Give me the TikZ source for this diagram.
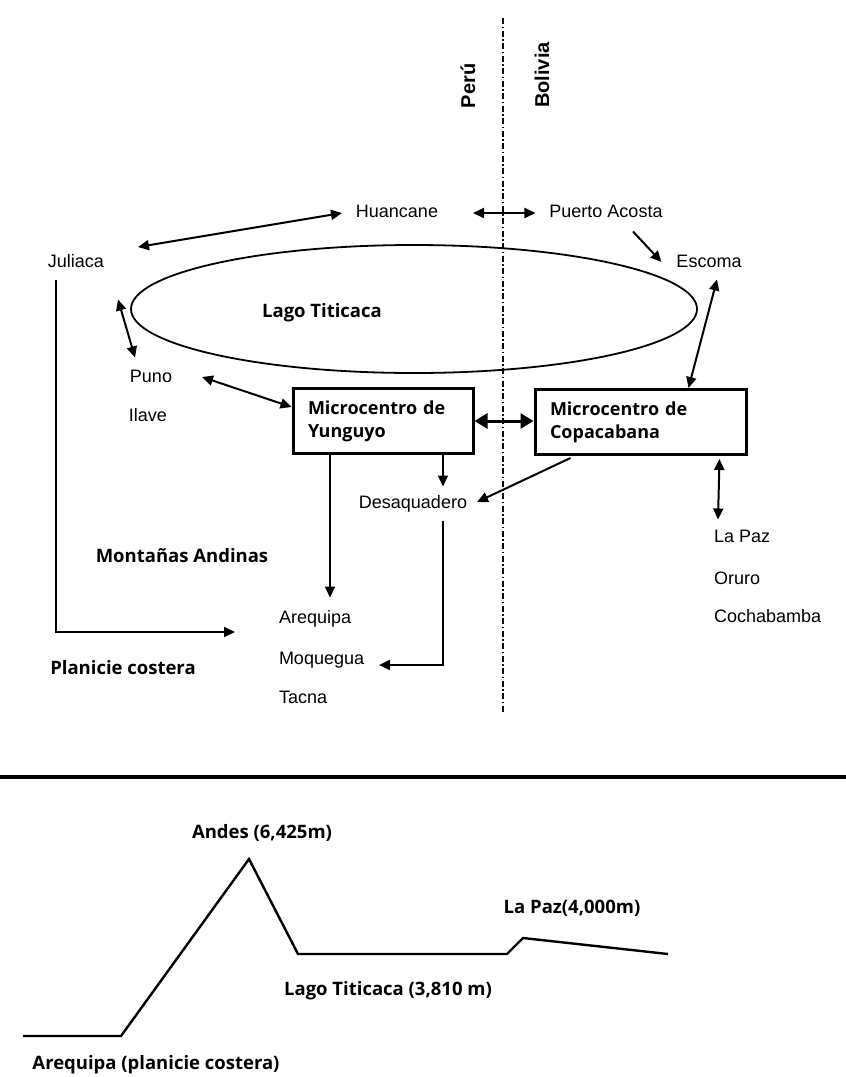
\documentclass[tikz,border=0pt]{standalone}
\usepackage{fontspec}
\setmainfont{Liberation Sans}
\newfontfamily\frut{Open Sans}
\usetikzlibrary{arrows.meta}

\begin{document}
\begin{tikzpicture}[x=1pt, y=-1pt, line width=2pt,
  town/.style={font=\fontsize{18}{21}\selectfont, inner sep=2pt, text height=13pt, text depth=4pt},
  land/.style={font=\bfseries\fontsize{20}{23}\selectfont, inner sep=2pt, rotate=90},
  reg/.style={font=\frut\bfseries\fontsize{18.5}{22}\selectfont, inner sep=2pt},
  centro/.style={draw, line width=3pt, font=\frut\bfseries\fontsize{18}{23}\selectfont,
    align=left, inner xsep=15pt, inner ysep=0pt, minimum height=65pt},
  >={Triangle[length=11pt,width=10pt]},
  fat/.style={line width=3pt, >={Triangle[length=13pt,width=15pt]}}]
\useasboundingbox (0,0) rectangle (846,1077);
\node[land] (Per) at (468,86) {Perú};
\node[land] (Bol) at (542,75) {Bolivia};
\coordinate (Bt) at (503,18);
\coordinate (Bb) at (503,713);
\draw[line width=1.6pt, dash pattern=on 6pt off 2.5pt on 1.5pt off 2.5pt] (Bt) -- (Bb);
\draw[line width=1.8pt] (414,309) ellipse [x radius=283, y radius=64];
\node[reg] (Lag) at (322,313) {Lago Titicaca};
\node[town] (Hua) at (397,213) {Huancane};
\node[town] (PAc) at (606,213) {Puerto Acosta};
\node[town] (Esc) at (709,263) {Escoma};
\node[town] (Jul) at (76,263) {Juliaca};
\node[town] (Pun) at (151,378) {Puno};
\node[town] (Ila) at (148,417) {Ilave};
\node[town] (Des) at (413,504) {Desaquadero};
\node[town, anchor=west] (Are) at (276,619) {Arequipa};
\node[town, anchor=west] (Moq) at (276,660) {Moquegua};
\node[town, anchor=west] (Tac) at (276,699) {Tacna};
\node[town, anchor=west] (LPz) at (711,538) {La Paz};
\node[town, anchor=west] (Oru) at (711,580) {Oruro};
\node[town, anchor=west] (Coc) at (711,618) {Cochabamba};
\node[reg] (Mon) at (182,556) {Montañas Andinas};
\node[reg] (Pla) at (123,668) {Planicie costera};
\node[centro, text width=150pt] (Yun) at (383,421) {Microcentro de\\Yunguyo};
\node[centro, text width=181pt] (Cop) at (640.5,422) {Microcentro de\\Copacabana};
\draw[<->] ([shift={(31,-16)}]Jul.east) -- ([shift={(-11,0)}]Hua.west);
\draw[<->] ([shift={(32,0)}]Hua.east) -- ([shift={(-11,0)}]PAc.west);
\draw[->] ([shift={(27,7)}]PAc.south) -- ([shift={(-12,-1)}]Esc.west);
\draw[<->] ([shift={(8,5)}]Esc.south) -- ([shift={(-59,0)}]Cop.north east);
\draw[<->] ([shift={(11,25)}]Jul.south east) -- ([shift={(-16,-9)}]Pun.north);
\draw[<->] ([shift={(27,-1)}]Pun.east) -- ([shift={(0,-14)}]Yun.west);
\draw[<->, fat] (Yun.east) -- (Cop.west |- Yun.east);
\draw[->, shorten >=10pt] ([shift={(-53,0)}]Yun.south) -- ([shift={(-53,0)}]Yun.south |- Are.north);
\draw[->, shorten >=6pt] ([shift={(60,0)}]Yun.south) -- ([shift={(60,0)}]Yun.south |- Des.north);
\draw[->] ([shift={(-70,2)}]Cop.south) -- ([shift={(7,-2)}]Des.east);
\draw[->] ([shift={(30,5)}]Des.south) |- ([shift={(12,5)}]Moq.east);
\draw[->] ([shift={(-20,5)}]Jul.south) |- ([shift={(-41,13)}]Are.west);
\draw[<->] ([shift={(-28,3)}]Cop.south east) -- ([shift={(7,-7)}]LPz.north west);
\coordinate (Rl) at (0,777);
\coordinate (Rr) at (846,777);
\draw[line width=3.2pt] (Rl) -- (Rr);
\draw[line width=2.4pt] (23,1036) -- (121,1036) -- (249,859) -- (298,954) -- (507,954) -- (523,938) -- (668,954);
\node[reg] (And) at (262,833) {Andes (6,425m)};
\node[reg] (LTc) at (388,991) {Lago Titicaca (3,810 m)};
\node[reg] (LPa) at (572,908) {La Paz(4,000m)};
\node[reg] (AqP) at (156,1065) {Arequipa (planicie costera)};
\end{tikzpicture}
\end{document}
